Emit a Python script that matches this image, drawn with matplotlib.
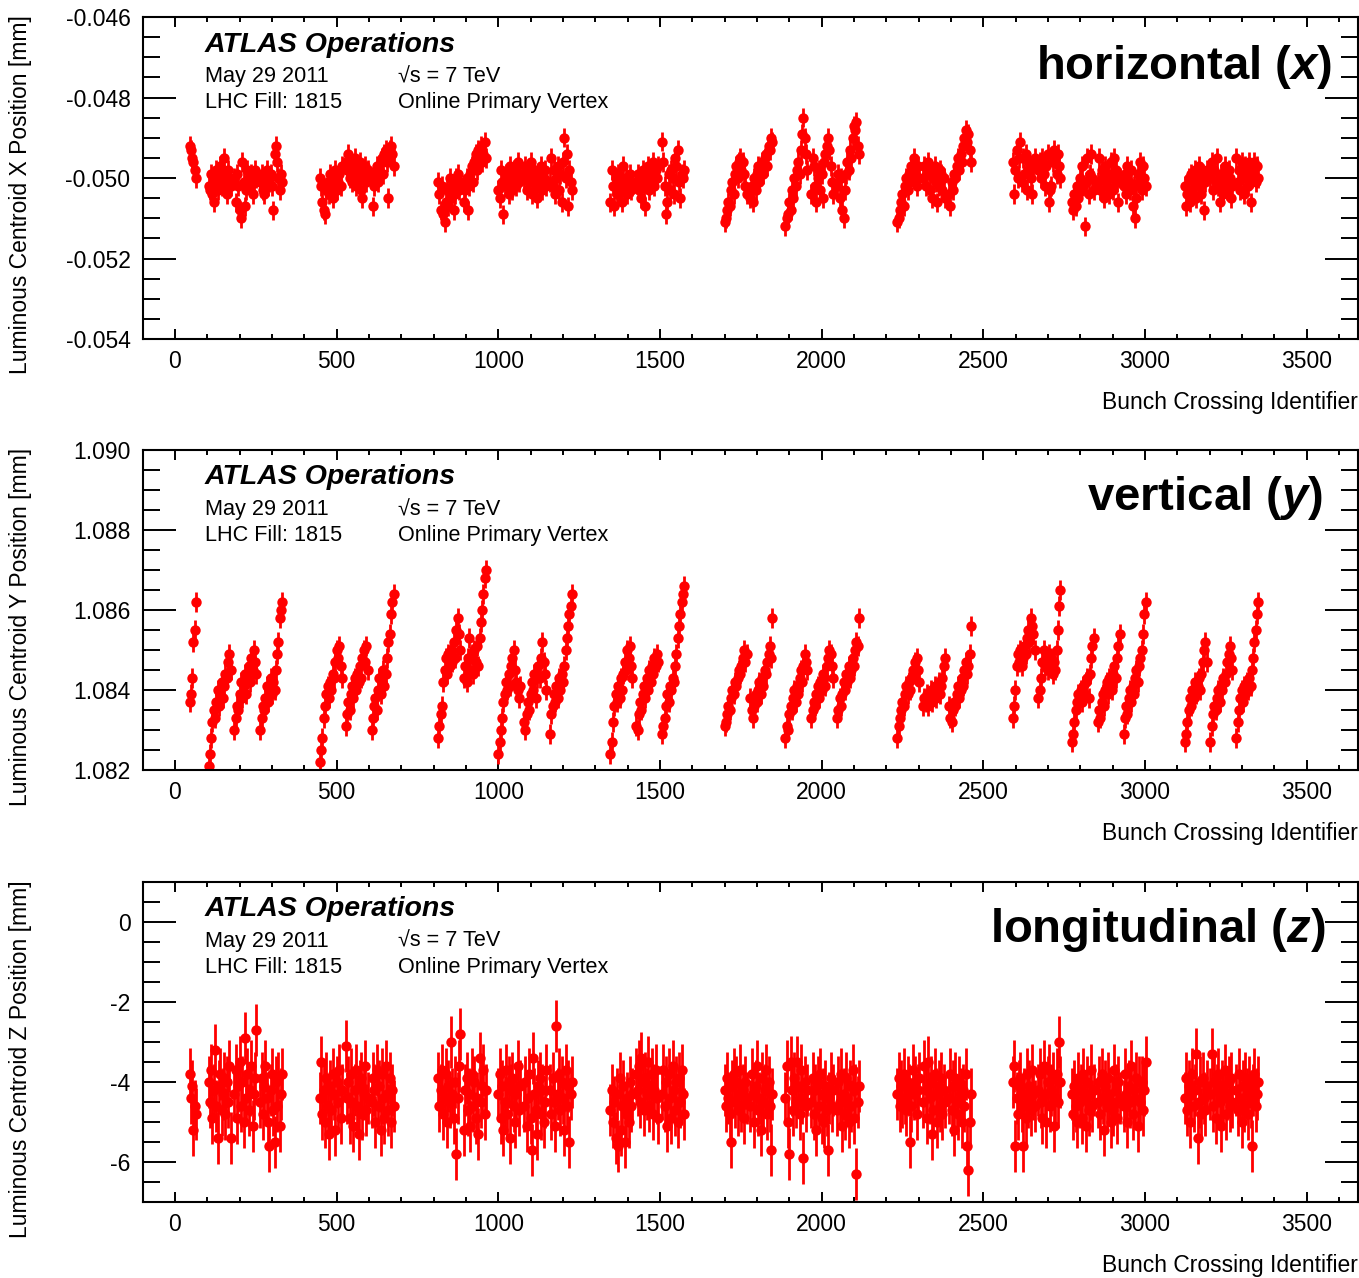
#!/usr/bin/env python3
"""
Luminous centroid position per bunch crossing, ATLAS online primary vertex, fill 1815.
"""

import matplotlib
matplotlib.use("Agg")
import matplotlib.pyplot as plt
from matplotlib.ticker import MultipleLocator, FormatStrFormatter

plt.rcParams['font.family'] = ['Liberation Sans', 'DejaVu Sans']
plt.rcParams['axes.unicode_minus'] = False
plt.rcParams['mathtext.fontset'] = 'custom'
plt.rcParams['mathtext.it'] = 'Liberation Sans:italic:bold'
plt.rcParams['mathtext.rm'] = 'Liberation Sans'

# Filling scheme: first BCID of the pilot and of each 36-bunch train
PILOT_START = 45
TRAIN_STARTS = [
    [104, 184, 264],
    [448, 528, 608],
    [814, 894],
    [1000, 1080, 1160],
    [1347, 1427, 1507],
    [1700, 1780],
    [1888, 1968, 2048],
    [2234, 2314, 2394],
    [2591, 2671],
    [2774, 2854, 2934],
    [3123, 3203, 3283],
]
BUNCH_STEP = 4  # every second 50 ns bunch

# Horizontal centroid [um]
x_pilot = [-49.2, -49.3, -49.5, -49.6, -49.8, -50.0]
x_g1 = [
    [-50.2, -50.3, -49.9, -50.4, -50.6, -50.1, -49.8, -50.3, -50.0, -49.7, -50.2, -49.9, -49.5, -50.1, -50.4, -49.8, -50.0, -50.2],
    [-50.0, -50.6, -49.9, -50.2, -50.8, -51.0, -49.6, -50.1, -50.7, -50.3, -49.8, -50.0, -50.2, -49.9, -50.4, -50.1, -49.8, -50.0],
    [-50.1, -49.9, -50.3, -50.4, -50.0, -49.8, -50.2, -50.1, -49.9, -50.2, -50.8, -49.4, -49.2, -49.6, -50.0, -50.3, -49.9, -50.1],
]
x_g2 = [
    [-50.0, -50.2, -50.6, -50.8, -50.9, -50.3, -50.1, -50.4, -49.9, -50.2, -50.5, -50.0, -49.8, -50.3, -50.1, -49.9, -50.2, -49.7],
    [-49.6, -49.8, -49.4, -50.0, -49.7, -50.1, -49.9, -49.5, -50.2, -49.8, -50.0, -49.6, -50.3, -50.5, -49.9, -49.7, -50.1, -49.8],
    [-50.0, -50.7, -50.2, -49.9, -49.7, -50.1, -49.8, -49.6, -49.5, -49.9, -49.4, -49.3, -49.6, -50.5, -49.3, -49.2, -49.4, -49.7],
]
x_g3 = [
    [-50.1, -50.4, -50.8, -50.2, -50.9, -51.1, -50.6, -50.3, -50.7, -50.0, -50.5, -50.2, -50.8, -50.4, -50.0, -49.9, -50.3, -50.1],
    [-50.6, -50.3, -50.0, -50.8, -50.2, -49.9, -49.7, -50.1, -49.6, -49.4, -49.8, -49.3, -49.5, -49.2, -49.6, -49.4, -49.1, -49.5],
]
x_g4 = [
    [-50.3, -50.5, -49.8, -50.1, -50.9, -50.2, -49.9, -50.0, -50.4, -49.7, -50.1, -50.3, -49.8, -50.0, -50.2, -49.6, -50.1, -49.9],
    [-50.0, -49.7, -50.3, -49.9, -50.1, -49.6, -50.4, -50.0, -49.8, -50.2, -50.5, -49.9, -50.1, -49.7, -50.3, -50.0, -49.8, -50.2],
    [-50.1, -49.5, -50.2, -49.8, -50.4, -50.0, -49.7, -50.3, -49.9, -50.6, -49.6, -49.0, -50.0, -49.4, -50.7, -49.8, -50.1, -50.3],
]
x_g5 = [
    [-50.6, -49.8, -50.2, -50.7, -50.0, -50.4, -49.9, -50.3, -50.1, -50.6, -49.7, -50.2, -50.0, -50.4, -50.1, -49.9, -50.3, -50.2],
    [-50.1, -49.9, -50.3, -50.0, -50.5, -49.8, -50.2, -50.7, -50.0, -49.7, -50.3, -49.9, -50.1, -49.6, -50.2, -49.8, -50.0, -49.7],
    [-49.1, -49.6, -50.2, -50.9, -50.6, -49.9, -50.3, -49.8, -50.0, -50.4, -49.5, -49.7, -49.3, -50.1, -50.5, -49.9, -50.0, -49.8],
]
x_g6 = [
    [-51.1, -51.0, -50.8, -50.6, -50.7, -50.3, -50.1, -50.4, -49.9, -49.7, -50.0, -49.6, -49.5, -49.8, -49.6, -49.9, -50.2, -50.4],
    [-50.5, -50.2, -50.6, -50.0, -50.3, -49.9, -49.7, -50.1, -49.8, -49.6, -49.9, -49.5, -49.4, -49.7, -49.2, -49.3, -49.0, -49.1],
]
x_g7 = [
    [-51.2, -51.0, -50.9, -50.6, -50.8, -50.3, -50.5, -50.0, -50.2, -49.8, -49.6, -49.9, -49.3, -48.9, -48.5, -49.0, -49.4, -49.8],
    [-50.4, -49.5, -49.7, -50.2, -50.6, -50.0, -49.8, -50.3, -49.9, -50.5, -49.6, -49.4, -49.2, -49.0, -49.3, -49.7, -50.1, -50.4],
    [-50.2, -49.9, -50.5, -50.0, -50.8, -51.0, -50.3, -49.9, -49.6, -49.8, -49.3, -49.5, -49.0, -48.7, -48.8, -48.6, -49.2, -49.4],
]
x_g8 = [
    [-51.1, -51.0, -50.8, -50.6, -50.4, -50.7, -50.2, -50.0, -50.3, -49.9, -50.1, -49.7, -49.8, -49.5, -49.9, -50.2, -49.7, -50.0],
    [-50.0, -49.7, -50.2, -49.9, -49.6, -50.3, -49.8, -50.5, -50.0, -49.7, -50.1, -50.6, -50.2, -49.8, -49.9, -50.3, -50.0, -50.5],
    [-50.4, -50.7, -50.1, -50.3, -49.9, -50.0, -49.7, -49.5, -49.8, -49.4, -49.6, -49.2, -49.0, -48.8, -49.1, -48.9, -49.3, -49.6],
]
x_g9 = [
    [-49.6, -50.4, -49.8, -49.3, -50.0, -49.5, -49.1, -50.1, -49.5, -49.9, -49.4, -50.3, -49.8, -49.6, -50.0, -50.4, -49.7, -49.5],
    [-49.8, -49.6, -50.0, -49.5, -49.9, -50.2, -49.7, -49.4, -50.6, -50.3, -50.2, -49.6, -49.3, -49.5, -49.9, -49.4, -49.7, -50.0],
]
x_g10 = [
    [-50.6, -50.8, -50.4, -50.7, -50.2, -50.5, -50.0, -50.3, -49.7, -50.2, -51.2, -50.1, -49.5, -50.4, -49.9, -49.4, -50.0, -50.3],
    [-50.1, -49.5, -50.3, -49.8, -50.0, -50.5, -49.7, -50.2, -49.9, -50.4, -49.6, -50.0, -50.3, -49.5, -49.8, -50.1, -50.6, -50.0],
    [-50.2, -49.9, -50.4, -49.7, -50.1, -50.3, -49.8, -50.7, -50.2, -51.0, -50.5, -49.9, -50.1, -49.6, -50.3, -49.7, -50.0, -50.2],
]
x_g11 = [
    [-50.2, -50.7, -50.4, -50.0, -50.6, -49.9, -50.3, -50.1, -49.8, -50.5, -50.0, -49.7, -50.2, -50.4, -49.9, -50.8, -50.1, -49.8],
    [-50.0, -49.6, -50.3, -49.8, -50.1, -49.5, -50.2, -50.6, -49.9, -50.0, -50.4, -49.7, -50.1, -50.3, -49.8, -50.0, -50.5, -50.2],
    [-49.5, -50.1, -49.8, -50.3, -49.6, -50.0, -50.4, -49.7, -49.9, -50.2, -49.6, -50.6, -50.0, -49.8, -49.6, -50.1, -49.7, -50.0],
]

# Vertical centroid [um]
y_pilot = [1083.7, 1083.9, 1084.3, 1085.2, 1085.5, 1086.2]
y_g1 = [
    [1082.1, 1082.4, 1082.8, 1083.2, 1083.5, 1083.3, 1083.7, 1084.0, 1083.6, 1083.9, 1084.2, 1083.8, 1084.1, 1084.4, 1084.3, 1084.7, 1084.9, 1084.5],
    [1083.0, 1083.3, 1083.6, 1083.5, 1083.9, 1084.2, 1083.8, 1084.1, 1084.4, 1083.9, 1084.3, 1084.6, 1084.2, 1084.8, 1084.5, 1085.0, 1084.7, 1084.4],
    [1083.0, 1083.3, 1083.6, 1083.5, 1083.8, 1084.1, 1083.7, 1084.0, 1084.3, 1083.9, 1084.2, 1084.0, 1084.5, 1084.9, 1085.2, 1085.8, 1086.0, 1086.2],
]
y_g2 = [
    [1082.2, 1082.5, 1082.8, 1083.3, 1083.6, 1083.9, 1084.1, 1083.8, 1084.2, 1084.0, 1084.4, 1084.3, 1084.7, 1085.0, 1084.8, 1085.1, 1084.6, 1084.3],
    [1083.1, 1083.4, 1083.7, 1083.5, 1083.9, 1084.1, 1083.8, 1084.3, 1084.0, 1084.4, 1084.2, 1084.6, 1084.3, 1084.8, 1085.0, 1084.7, 1085.1, 1084.5],
    [1083.0, 1083.3, 1083.6, 1083.8, 1083.5, 1084.0, 1084.3, 1083.9, 1084.2, 1084.5, 1084.1, 1084.4, 1084.8, 1085.2, 1085.4, 1085.9, 1086.2, 1086.4],
]
y_g3 = [
    [1082.8, 1083.1, 1083.4, 1083.6, 1084.2, 1084.5, 1084.8, 1084.4, 1084.9, 1084.6, 1085.0, 1084.7, 1085.2, 1084.8, 1085.5, 1085.8, 1085.4, 1085.0],
    [1084.3, 1084.6, 1084.2, 1084.8, 1085.3, 1084.5, 1084.9, 1084.4, 1085.0, 1084.7, 1085.1, 1084.6, 1085.3, 1085.7, 1086.0, 1086.4, 1086.8, 1087.0],
]
y_g4 = [
    [1082.4, 1082.7, 1083.0, 1083.3, 1083.7, 1083.9, 1084.2, 1084.0, 1084.4, 1084.1, 1084.6, 1084.8, 1085.0, 1084.5, 1084.2, 1084.0, 1083.8, 1084.1],
    [1083.2, 1083.0, 1083.4, 1083.7, 1083.5, 1083.9, 1084.2, 1084.0, 1084.4, 1083.8, 1084.3, 1084.6, 1084.3, 1084.8, 1085.2, 1084.7, 1084.4, 1084.0],
    [1082.9, 1083.4, 1083.6, 1083.9, 1083.7, 1084.1, 1083.8, 1084.3, 1084.0, 1084.4, 1084.2, 1084.6, 1085.0, 1085.3, 1085.6, 1085.9, 1086.1, 1086.4],
]
y_g5 = [
    [1082.4, 1082.7, 1083.2, 1083.6, 1083.9, 1083.7, 1084.1, 1083.8, 1084.3, 1084.0, 1084.4, 1084.7, 1084.5, 1085.0, 1084.8, 1085.1, 1084.6, 1084.3],
    [1083.1, 1083.0, 1083.4, 1083.7, 1083.5, 1083.9, 1084.1, 1083.8, 1084.3, 1084.0, 1084.5, 1084.2, 1084.6, 1084.4, 1084.8, 1084.6, 1084.9, 1084.7],
    [1082.9, 1083.1, 1083.3, 1083.6, 1083.9, 1083.7, 1084.1, 1084.0, 1084.3, 1084.2, 1084.6, 1084.9, 1085.3, 1085.6, 1085.9, 1086.2, 1086.4, 1086.6],
]
y_g6 = [
    [1083.1, 1083.2, 1083.4, 1083.6, 1083.5, 1083.8, 1084.0, 1083.9, 1084.2, 1084.1, 1084.3, 1084.5, 1084.4, 1084.6, 1084.8, 1085.0, 1084.7, 1084.9],
    [1083.8, 1083.5, 1083.3, 1083.6, 1083.9, 1083.7, 1084.0, 1084.2, 1083.9, 1084.3, 1084.1, 1084.5, 1084.4, 1084.7, 1084.9, 1085.1, 1084.8, 1085.8],
]
y_g7 = [
    [1082.8, 1083.1, 1083.0, 1083.4, 1083.6, 1083.5, 1083.8, 1084.0, 1083.7, 1084.1, 1083.9, 1084.3, 1084.5, 1084.2, 1084.6, 1084.9, 1084.7, 1084.5],
    [1083.3, 1083.5, 1083.7, 1083.6, 1083.9, 1084.1, 1083.8, 1084.2, 1084.0, 1084.4, 1084.3, 1084.1, 1084.6, 1084.8, 1085.0, 1084.9, 1084.6, 1084.3],
    [1083.3, 1083.5, 1083.8, 1083.6, 1083.9, 1084.2, 1084.0, 1084.4, 1084.2, 1084.6, 1084.3, 1084.5, 1084.8, 1084.6, 1085.0, 1085.2, 1085.1, 1085.8],
]
y_g8 = [
    [1082.8, 1083.1, 1083.3, 1083.5, 1083.7, 1083.6, 1083.9, 1084.1, 1083.9, 1084.2, 1084.0, 1084.3, 1084.5, 1084.4, 1084.7, 1084.8, 1084.5, 1084.2],
    [1083.6, 1083.8, 1083.7, 1083.9, 1083.6, 1083.8, 1084.0, 1083.7, 1083.9, 1084.1, 1083.8, 1084.0, 1084.2, 1083.9, 1084.1, 1084.3, 1084.6, 1084.8],
    [1083.6, 1083.3, 1083.2, 1083.5, 1083.7, 1083.6, 1083.9, 1084.1, 1083.8, 1084.0, 1084.3, 1084.1, 1084.5, 1084.7, 1084.4, 1084.6, 1084.9, 1085.6],
]
y_g9 = [
    [1083.3, 1083.6, 1084.0, 1084.6, 1084.9, 1084.7, 1085.0, 1084.6, 1084.8, 1085.1, 1084.9, 1085.3, 1085.5, 1085.2, 1085.8, 1085.6, 1085.4, 1085.0],
    [1083.8, 1084.0, 1084.3, 1084.7, 1085.0, 1084.6, 1084.8, 1084.5, 1084.9, 1084.6, 1084.8, 1084.4, 1084.7, 1084.5, 1085.0, 1085.5, 1086.1, 1086.5],
]
y_g10 = [
    [1082.7, 1082.9, 1083.2, 1083.5, 1083.7, 1083.9, 1083.8, 1084.0, 1083.7, 1084.1, 1083.9, 1084.2, 1084.3, 1083.8, 1084.4, 1084.8, 1085.1, 1085.3],
    [1083.2, 1083.5, 1083.3, 1083.7, 1083.9, 1083.6, 1084.0, 1084.2, 1083.9, 1084.3, 1084.1, 1084.0, 1084.4, 1084.6, 1084.3, 1084.8, 1085.1, 1085.4],
    [1082.9, 1083.3, 1083.6, 1083.4, 1083.8, 1084.0, 1083.7, 1084.1, 1083.9, 1084.3, 1084.5, 1084.2, 1084.6, 1084.8, 1085.0, 1085.4, 1085.9, 1086.2],
]
y_g11 = [
    [1082.7, 1082.9, 1083.2, 1083.5, 1083.8, 1083.6, 1084.0, 1083.8, 1084.2, 1083.9, 1084.1, 1084.3, 1084.0, 1084.4, 1084.7, 1085.0, 1085.2, 1084.7],
    [1082.7, 1083.1, 1083.4, 1083.6, 1083.5, 1083.8, 1084.0, 1083.7, 1084.1, 1084.0, 1084.3, 1084.2, 1084.4, 1084.7, 1084.9, 1085.1, 1084.8, 1084.5],
    [1082.8, 1083.2, 1083.5, 1083.8, 1084.0, 1083.7, 1084.1, 1083.9, 1084.2, 1084.0, 1084.3, 1084.1, 1084.5, 1084.8, 1085.2, 1085.5, 1085.9, 1086.2],
]

# Longitudinal centroid [mm]
z_pilot = [-3.8, -4.4, -4.1, -5.2, -4.6, -4.8]
z_g1 = [
    [-4.0, -4.5, -3.7, -4.9, -4.2, -3.2, -4.6, -5.4, -4.1, -3.8, -4.7, -4.3, -3.9, -4.8, -4.0, -4.5, -3.6, -5.4],
    [-4.3, -3.7, -4.9, -4.1, -3.5, -4.6, -4.0, -5.0, -2.9, -4.4, -3.8, -4.7, -4.2, -3.6, -5.1, -4.3, -3.9, -2.7],
    [-4.5, -3.9, -4.8, -4.1, -3.6, -4.4, -5.0, -5.6, -4.2, -3.8, -4.7, -5.5, -4.0, -4.6, -3.9, -5.1, -4.3, -3.8],
]
z_g2 = [
    [-4.4, -3.5, -4.8, -4.2, -5.0, -3.9, -4.6, -5.3, -4.1, -4.7, -3.8, -4.3, -5.2, -4.0, -4.5, -3.7, -4.9, -4.2],
    [-3.1, -4.4, -4.0, -4.9, -3.8, -4.5, -5.1, -4.2, -3.7, -4.6, -5.3, -4.1, -3.9, -4.8, -4.3, -3.6, -4.7, -4.4],
    [-4.5, -3.9, -4.2, -5.0, -3.7, -4.6, -4.1, -5.2, -3.8, -4.4, -4.9, -3.6, -4.3, -4.7, -3.9, -5.0, -4.2, -4.6],
]
z_g3 = [
    [-3.9, -4.6, -4.2, -3.7, -4.8, -4.4, -3.8, -5.0, -4.1, -4.5, -3.0, -4.3, -4.9, -4.0, -5.8, -4.4, -3.6, -2.8],
    [-5.2, -4.2, -3.9, -4.7, -4.3, -5.1, -3.8, -4.6, -4.0, -4.9, -4.4, -5.3, -3.4, -4.5, -4.1, -3.7, -4.8, -4.2],
]
z_g4 = [
    [-4.3, -3.8, -4.9, -4.1, -5.2, -4.5, -3.7, -4.8, -4.0, -5.4, -4.2, -3.9, -4.6, -5.0, -4.3, -3.6, -4.7, -4.1],
    [-4.6, -4.0, -5.1, -4.4, -3.8, -4.9, -5.7, -3.4, -4.3, -4.7, -5.3, -4.1, -3.9, -4.8, -4.2, -5.0, -4.5, -3.7],
    [-4.2, -4.8, -3.9, -4.5, -5.1, -2.6, -4.3, -3.8, -4.7, -4.0, -4.4, -5.2, -3.7, -4.6, -4.1, -5.5, -4.3, -4.0],
]
z_g5 = [
    [-4.7, -4.2, -5.0, -4.5, -5.4, -4.3, -5.6, -3.9, -5.2, -4.6, -4.1, -5.5, -4.8, -4.4, -5.0, -4.0, -4.6, -4.3],
    [-3.8, -4.2, -3.6, -4.5, -3.4, -4.0, -4.7, -3.9, -4.3, -3.5, -4.6, -4.1, -3.8, -4.8, -4.2, -3.7, -4.4, -4.9],
    [-4.3, -3.7, -4.6, -4.0, -5.1, -3.8, -4.4, -4.9, -3.6, -4.2, -4.7, -4.0, -5.0, -3.9, -4.5, -3.7, -4.3, -4.8],
]
z_g6 = [
    [-4.2, -4.6, -3.9, -4.4, -4.8, -5.5, -4.1, -3.8, -4.5, -4.0, -4.7, -4.3, -3.7, -4.6, -4.2, -4.9, -4.0, -4.4],
    [-4.6, -3.8, -4.3, -5.0, -4.1, -3.6, -4.7, -4.4, -5.2, -3.9, -4.5, -4.2, -3.7, -4.8, -4.0, -4.6, -5.7, -4.3],
]
z_g7 = [
    [-4.4, -3.6, -5.0, -5.8, -3.5, -4.2, -4.7, -3.9, -4.5, -3.5, -4.1, -4.8, -3.7, -4.4, -5.9, -4.0, -4.6, -4.2],
    [-4.5, -3.9, -4.8, -4.2, -5.2, -4.0, -4.6, -3.8, -4.9, -4.3, -5.0, -4.1, -4.7, -5.7, -4.4, -3.9, -4.6, -4.2],
    [-4.7, -4.0, -4.5, -3.8, -5.1, -4.3, -4.8, -3.9, -4.4, -5.0, -4.1, -4.6, -3.7, -4.9, -4.2, -6.3, -4.5, -4.1],
]
z_g8 = [
    [-4.3, -3.9, -4.6, -4.1, -4.5, -3.8, -4.4, -4.7, -4.0, -4.2, -5.5, -4.6, -3.7, -4.3, -4.0, -4.8, -4.2, -3.9],
    [-4.5, -3.6, -4.2, -4.9, -3.5, -4.4, -4.0, -5.3, -4.7, -3.8, -4.3, -5.0, -4.1, -4.6, -3.9, -4.8, -4.2, -4.5],
    [-4.4, -3.8, -4.7, -4.1, -5.2, -3.9, -4.5, -4.8, -4.0, -4.3, -5.0, -4.2, -4.6, -3.8, -5.6, -6.2, -5.0, -4.3],
]
z_g9 = [
    [-4.0, -3.6, -5.6, -4.4, -4.8, -4.1, -3.9, -4.6, -5.6, -4.3, -4.9, -3.8, -4.5, -4.1, -4.7, -3.7, -4.3, -4.6],
    [-4.2, -3.8, -4.5, -4.9, -3.6, -4.3, -5.0, -4.0, -3.7, -4.6, -4.2, -3.9, -5.1, -4.4, -3.8, -4.5, -3.0, -4.0],
]
z_g10 = [
    [-4.3, -4.8, -4.1, -4.6, -5.0, -3.9, -4.5, -4.2, -4.9, -3.8, -4.4, -5.1, -4.0, -4.7, -4.3, -3.7, -4.6, -4.2],
    [-4.5, -4.0, -4.8, -3.8, -4.4, -5.2, -4.1, -4.6, -3.9, -4.3, -5.0, -4.5, -4.7, -3.7, -4.2, -4.9, -4.0, -4.4],
    [-4.6, -3.8, -4.3, -5.0, -4.1, -4.5, -3.6, -4.8, -4.2, -4.4, -3.9, -5.1, -4.0, -4.5, -4.0, -4.7, -4.2, -3.5],
]
z_g11 = [
    [-4.4, -3.9, -4.7, -4.1, -5.0, -4.3, -3.8, -4.6, -4.2, -3.3, -5.4, -4.5, -4.0, -4.8, -3.9, -4.4, -4.7, -4.1],
    [-4.3, -3.3, -4.6, -4.0, -4.9, -4.2, -3.8, -4.5, -5.1, -4.1, -4.4, -3.7, -4.8, -4.3, -4.0, -4.6, -3.9, -4.5],
    [-4.2, -4.7, -3.8, -4.4, -5.0, -4.1, -4.6, -3.9, -4.3, -4.8, -4.0, -4.5, -5.6, -4.2, -3.8, -4.6, -4.3, -4.0],
]

X_GROUPS = [x_g1, x_g2, x_g3, x_g4, x_g5, x_g6, x_g7, x_g8, x_g9, x_g10, x_g11]
Y_GROUPS = [y_g1, y_g2, y_g3, y_g4, y_g5, y_g6, y_g7, y_g8, y_g9, y_g10, y_g11]
Z_GROUPS = [z_g1, z_g2, z_g3, z_g4, z_g5, z_g6, z_g7, z_g8, z_g9, z_g10, z_g11]


def collect(pilot, groups, scale):
    """Flatten pilot + trains into (bcid, value) lists."""
    bcid = [PILOT_START + BUNCH_STEP * i for i in range(len(pilot))]
    vals = [v * scale for v in pilot]
    for starts, trains in zip(TRAIN_STARTS, groups):
        for start, train in zip(starts, trains):
            bcid += [start + BUNCH_STEP * i for i in range(len(train))]
            vals += [v * scale for v in train]
    return bcid, vals


panels = [
    dict(pilot=x_pilot, groups=X_GROUPS, scale=1e-3, err=0.24e-3,
         ylim=(-0.054, -0.046), major=0.002, minor=0.0005, fmt='%.3f',
         ylabel='Luminous Centroid X Position [mm]', tag='horizontal ($x$)',
         rect=[0.1052, 0.7347, 0.894, 0.2520], tag_xy=(0.979, 0.845),
         atlas_y=0.913),
    dict(pilot=y_pilot, groups=Y_GROUPS, scale=1e-3, err=0.24e-3,
         ylim=(1.082, 1.090), major=0.002, minor=0.0005, fmt='%.3f',
         ylabel='Luminous Centroid Y Position [mm]', tag='vertical ($y$)',
         rect=[0.1052, 0.3975, 0.894, 0.2504], tag_xy=(0.971, 0.85),
         atlas_y=0.916),
    dict(pilot=z_pilot, groups=Z_GROUPS, scale=1.0, err=0.65,
         ylim=(-7, 1), major=2, minor=0.5, fmt='%d',
         ylabel='Luminous Centroid Z Position [mm]', tag='longitudinal ($z$)',
         rect=[0.1052, 0.0595, 0.894, 0.2504], tag_xy=(0.973, 0.85),
         atlas_y=0.916),
]

fig = plt.figure(figsize=(13.59, 12.78), dpi=100)

for p in panels:
    ax = fig.add_axes(p['rect'])
    bcid, vals = collect(p['pilot'], p['groups'], p['scale'])
    ax.errorbar(bcid, vals, yerr=p['err'], fmt='o', color='#ff0000',
                ms=7.5, mew=0, elinewidth=2.0, capsize=0)

    ax.set_xlim(-99, 3659)
    ax.set_ylim(*p['ylim'])
    ax.xaxis.set_major_locator(MultipleLocator(500))
    ax.xaxis.set_minor_locator(MultipleLocator(100))
    ax.yaxis.set_major_locator(MultipleLocator(p['major']))
    ax.yaxis.set_minor_locator(MultipleLocator(p['minor']))
    ax.yaxis.set_major_formatter(FormatStrFormatter(p['fmt']))

    for sp in ax.spines.values():
        sp.set_linewidth(1.5)
    ax.tick_params(which='both', direction='in', top=True, right=True,
                   width=1.4, labelsize=16.5)
    ax.tick_params(axis='y', which='major', length=24, pad=9)
    ax.tick_params(axis='y', which='minor', length=12.5)
    ax.tick_params(axis='x', which='major', length=7.5, pad=8)
    ax.tick_params(axis='x', which='minor', length=3.8)

    ax.text(-0.1012, 1.006, p['ylabel'], rotation=90, ha='center', va='top',
            fontsize=16.5, transform=ax.transAxes)
    ax.text(1.0, -0.198, 'Bunch Crossing Identifier', ha='right', va='center',
            fontsize=16.5, transform=ax.transAxes)

    # ATLAS label block
    ax.text(0.051, p['atlas_y'], 'ATLAS Operations', fontsize=20.5,
            fontweight='bold', fontstyle='italic', va='center',
            transform=ax.transAxes)
    ax.text(0.051, 0.814, 'May 29 2011', fontsize=15.6, va='center',
            transform=ax.transAxes)
    ax.text(0.051, 0.733, 'LHC Fill: 1815', fontsize=15.6, va='center',
            transform=ax.transAxes)
    ax.text(0.21, 0.814, '\u221as = 7 TeV', fontsize=15.6, va='center',
            transform=ax.transAxes)
    ax.text(0.21, 0.733, 'Online Primary Vertex', fontsize=15.6, va='center',
            transform=ax.transAxes)

    ax.text(p['tag_xy'][0], p['tag_xy'][1], p['tag'], fontsize=34,
            fontweight='bold', ha='right', va='center', transform=ax.transAxes)

fig.savefig('out.png', dpi=100)
